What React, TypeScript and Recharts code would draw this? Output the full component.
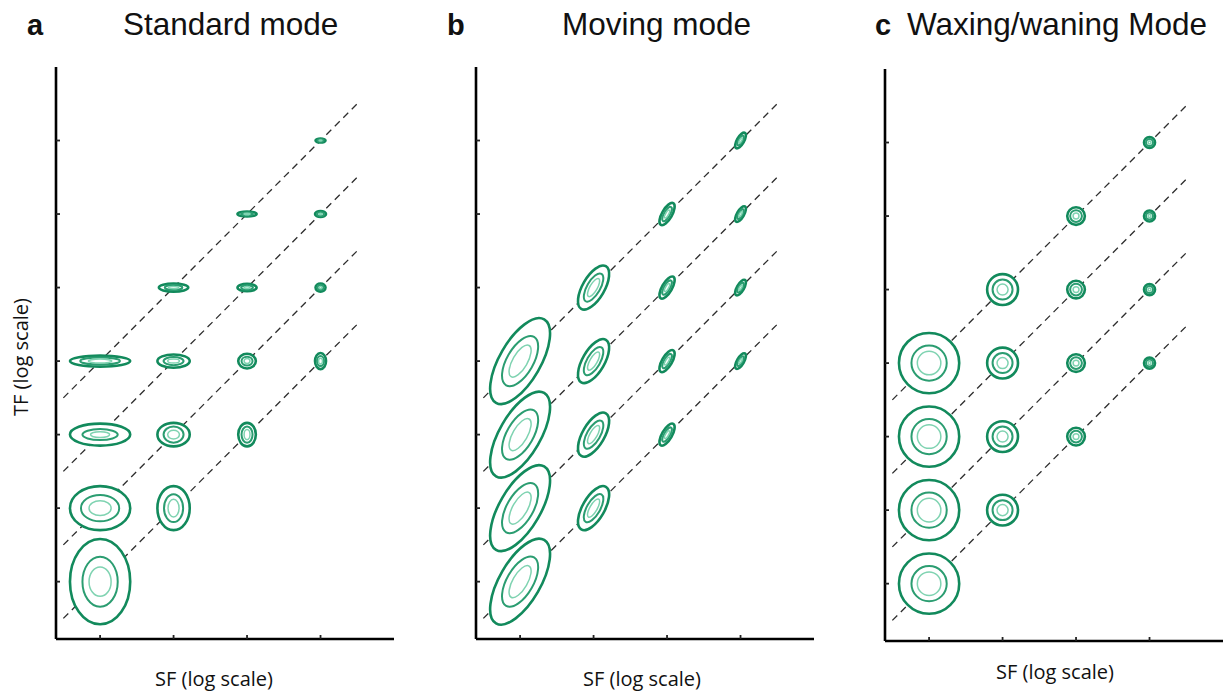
import React from "react";
import { ScatterChart, Scatter, XAxis, YAxis } from "recharts";

// axes in log units
const SF_TICKS = [1, 2, 3, 4];
const TF_TICKS = [1, 2, 3, 4, 5, 6, 7];
const SF_DOMAIN = [0.4, 5.0];
const TF_DOMAIN = [0.22, 8.0];

// dashed lines of constant speed (TF = SF + offset)
const SPEED_LINES = [
  [{ sf: 0.5, tf: 0.5 }, { sf: 4.5, tf: 4.5 }],
  [{ sf: 0.5, tf: 1.5 }, { sf: 4.5, tf: 5.5 }],
  [{ sf: 0.5, tf: 2.5 }, { sf: 4.5, tf: 6.5 }],
  [{ sf: 0.5, tf: 3.5 }, { sf: 4.5, tf: 7.5 }],
];

// contour half-widths [along SF, along TF] in log units
const standardMode = [
  { sf: 1, tf: 1, outer: [0.41, 0.58], middle: [0.24, 0.34], inner: [0.15, 0.2] },
  { sf: 1, tf: 2, outer: [0.41, 0.3], middle: [0.26, 0.18], inner: [0.15, 0.1] },
  { sf: 1, tf: 3, outer: [0.41, 0.15], middle: [0.24, 0.075], inner: [0.13, 0.04] },
  { sf: 1, tf: 4, outer: [0.41, 0.075], middle: [0.27, 0.048], inner: [0.16, 0.027] },
  { sf: 2, tf: 2, outer: [0.22, 0.3], middle: [0.13, 0.19], inner: [0.075, 0.12] },
  { sf: 2, tf: 3, outer: [0.22, 0.16], middle: [0.136, 0.11], inner: [0.08, 0.06] },
  { sf: 2, tf: 4, outer: [0.22, 0.09], middle: [0.136, 0.055], inner: [0.08, 0.027] },
  { sf: 2, tf: 5, outer: [0.2, 0.055], middle: [0.12, 0.034], inner: [0.07, 0.016] },
  { sf: 3, tf: 3, outer: [0.12, 0.16], middle: [0.075, 0.11], inner: [0.04, 0.07] },
  { sf: 3, tf: 4, outer: [0.12, 0.1], middle: [0.075, 0.06], inner: [0.04, 0.034] },
  { sf: 3, tf: 5, outer: [0.13, 0.05], middle: [0.08, 0.03], inner: [0.04, 0.014] },
  { sf: 3, tf: 6, outer: [0.13, 0.034], middle: [0.08, 0.02], inner: [0.04, 0.01] },
  { sf: 4, tf: 4, outer: [0.075, 0.11], middle: [0.048, 0.068], inner: [0.027, 0.04] },
  { sf: 4, tf: 5, outer: [0.068, 0.055], middle: [0.04, 0.034], inner: [0.02, 0.016] },
  { sf: 4, tf: 6, outer: [0.075, 0.04], middle: [0.048, 0.025], inner: [0.02, 0.011] },
  { sf: 4, tf: 7, outer: [0.068, 0.027], middle: [0.04, 0.016], inner: [0.02, 0.007] },
];

// [major, minor] half-axes, tilted along the speed direction
const movingMode = [
  { sf: 1, tf: 1, outer: [0.655, 0.28], middle: [0.38, 0.18], inner: [0.245, 0.1] },
  { sf: 1, tf: 2, outer: [0.655, 0.28], middle: [0.38, 0.18], inner: [0.245, 0.1] },
  { sf: 1, tf: 3, outer: [0.655, 0.28], middle: [0.38, 0.18], inner: [0.245, 0.1] },
  { sf: 1, tf: 4, outer: [0.655, 0.28], middle: [0.38, 0.18], inner: [0.245, 0.1] },
  { sf: 2, tf: 2, outer: [0.335, 0.15], middle: [0.215, 0.09], inner: [0.14, 0.05] },
  { sf: 2, tf: 3, outer: [0.335, 0.15], middle: [0.215, 0.09], inner: [0.14, 0.05] },
  { sf: 2, tf: 4, outer: [0.335, 0.15], middle: [0.215, 0.09], inner: [0.14, 0.05] },
  { sf: 2, tf: 5, outer: [0.335, 0.15], middle: [0.215, 0.09], inner: [0.14, 0.05] },
  { sf: 3, tf: 3, outer: [0.17, 0.068], middle: [0.11, 0.04], inner: [0.06, 0.02] },
  { sf: 3, tf: 4, outer: [0.17, 0.068], middle: [0.11, 0.04], inner: [0.06, 0.02] },
  { sf: 3, tf: 5, outer: [0.17, 0.068], middle: [0.11, 0.04], inner: [0.06, 0.02] },
  { sf: 3, tf: 6, outer: [0.17, 0.068], middle: [0.11, 0.04], inner: [0.06, 0.02] },
  { sf: 4, tf: 4, outer: [0.12, 0.048], middle: [0.075, 0.027], inner: [0.04, 0.014] },
  { sf: 4, tf: 5, outer: [0.12, 0.048], middle: [0.075, 0.027], inner: [0.04, 0.014] },
  { sf: 4, tf: 6, outer: [0.12, 0.048], middle: [0.075, 0.027], inner: [0.04, 0.014] },
  { sf: 4, tf: 7, outer: [0.12, 0.048], middle: [0.075, 0.027], inner: [0.04, 0.014] },
];

const waxingMode = [
  { sf: 1, tf: 1, outer: [0.41, 0.41], middle: [0.24, 0.24], inner: [0.16, 0.16] },
  { sf: 1, tf: 2, outer: [0.41, 0.41], middle: [0.24, 0.24], inner: [0.16, 0.16] },
  { sf: 1, tf: 3, outer: [0.41, 0.41], middle: [0.24, 0.24], inner: [0.16, 0.16] },
  { sf: 1, tf: 4, outer: [0.41, 0.41], middle: [0.24, 0.24], inner: [0.16, 0.16] },
  { sf: 2, tf: 2, outer: [0.21, 0.21], middle: [0.136, 0.136], inner: [0.075, 0.075] },
  { sf: 2, tf: 3, outer: [0.21, 0.21], middle: [0.136, 0.136], inner: [0.075, 0.075] },
  { sf: 2, tf: 4, outer: [0.21, 0.21], middle: [0.136, 0.136], inner: [0.075, 0.075] },
  { sf: 2, tf: 5, outer: [0.21, 0.21], middle: [0.136, 0.136], inner: [0.075, 0.075] },
  { sf: 3, tf: 3, outer: [0.12, 0.12], middle: [0.08, 0.08], inner: [0.04, 0.04] },
  { sf: 3, tf: 4, outer: [0.12, 0.12], middle: [0.08, 0.08], inner: [0.04, 0.04] },
  { sf: 3, tf: 5, outer: [0.12, 0.12], middle: [0.08, 0.08], inner: [0.04, 0.04] },
  { sf: 3, tf: 6, outer: [0.12, 0.12], middle: [0.08, 0.08], inner: [0.04, 0.04] },
  { sf: 4, tf: 4, outer: [0.075, 0.075], middle: [0.048, 0.048], inner: [0.02, 0.02] },
  { sf: 4, tf: 5, outer: [0.075, 0.075], middle: [0.048, 0.048], inner: [0.02, 0.02] },
  { sf: 4, tf: 6, outer: [0.075, 0.075], middle: [0.048, 0.048], inner: [0.02, 0.02] },
  { sf: 4, tf: 7, outer: [0.075, 0.075], middle: [0.048, 0.048], inner: [0.02, 0.02] },
];

const PLOT_W = 338;
const PLOT_H = 572;
const M = 10;
const AXIS = 1;
const PX = PLOT_W / (SF_DOMAIN[1] - SF_DOMAIN[0]);

const OUTER = "#128a5c";
const MIDDLE = "#2b9d71";
const INNER = "#7fd3b1";

function Contours(props: any) {
  const { cx, cy, payload, tilt } = props;
  if (cx == null || cy == null) return null;
  return (
    <g transform={`translate(${cx} ${cy}) rotate(${-tilt})`}>
      <ellipse rx={payload.outer[0] * PX} ry={payload.outer[1] * PX} fill="#fff" stroke={OUTER} strokeWidth={2.6} />
      <ellipse rx={payload.middle[0] * PX} ry={payload.middle[1] * PX} fill="none" stroke={MIDDLE} strokeWidth={2} />
      <ellipse rx={payload.inner[0] * PX} ry={payload.inner[1] * PX} fill="none" stroke={INNER} strokeWidth={1.5} />
    </g>
  );
}

const NoLabel = () => <g />;

function Panel({ data, tilt, left, bottom }: { data: any[]; tilt: number; left: number; bottom: number }) {
  return (
    <div style={{ position: "absolute", left: left - M - AXIS, top: bottom - PLOT_H - M }}>
      <ScatterChart
        width={PLOT_W + 2 * M + AXIS}
        height={PLOT_H + 2 * M + AXIS}
        margin={{ top: M, right: M, bottom: M, left: M }}
      >
        <XAxis
          type="number"
          dataKey="sf"
          domain={SF_DOMAIN}
          ticks={SF_TICKS}
          allowDataOverflow
          height={AXIS}
          tick={NoLabel}
          tickSize={-4}
          axisLine={{ stroke: "#000", strokeWidth: 2.6 }}
          tickLine={{ stroke: "#222", strokeWidth: 1.8 }}
        />
        <YAxis
          type="number"
          dataKey="tf"
          domain={TF_DOMAIN}
          ticks={TF_TICKS}
          allowDataOverflow
          width={AXIS}
          tick={NoLabel}
          tickSize={-4}
          axisLine={{ stroke: "#000", strokeWidth: 2.6 }}
          tickLine={{ stroke: "#222", strokeWidth: 1.8 }}
        />
        {SPEED_LINES.map((seg, i) => (
          <Scatter
            key={`line-${i}`}
            data={seg}
            line={{ stroke: "#2d2d2d", strokeWidth: 1.3, strokeDasharray: "7 5" }}
            shape={() => <g />}
            isAnimationActive={false}
          />
        ))}
        <Scatter data={data} shape={(p: any) => <Contours {...p} tilt={tilt} />} isAnimationActive={false} />
      </ScatterChart>
    </div>
  );
}

const TITLE_FONT = "Liberation Sans, Arial, sans-serif";
const LABEL_FONT = "Open Sans, sans-serif";

export default function App() {
  return (
    <div style={{ position: "absolute", left: 0, top: 0, width: 1227, height: 691, background: "#fff", overflow: "hidden" }}>
      <Panel data={standardMode} tilt={0} left={56} bottom={639} />
      <Panel data={movingMode} tilt={60} left={476} bottom={639} />
      <Panel data={waxingMode} tilt={0} left={885} bottom={641} />
      <svg width={1227} height={691} style={{ position: "absolute", left: 0, top: 0, pointerEvents: "none" }}>
        <g fontFamily={TITLE_FONT} fill="#111">
          <text x={27} y={35} fontSize={29} fontWeight="bold">a</text>
          <text x={123} y={35} fontSize={31.5}>Standard mode</text>
          <text x={447} y={35} fontSize={29} fontWeight="bold">b</text>
          <text x={562} y={35} fontSize={31.5}>Moving mode</text>
          <text x={875} y={35} fontSize={29} fontWeight="bold">c</text>
          <text x={907} y={35} fontSize={31.5}>Waxing/waning Mode</text>
        </g>
        <g fontFamily={LABEL_FONT} fill="#111" fontSize={20} textAnchor="middle">
          <text x={214} y={686}>SF (log scale)</text>
          <text x={642} y={686}>SF (log scale)</text>
          <text x={1055} y={679}>SF (log scale)</text>
          <text x={28} y={357} transform="rotate(-90 28 357)">TF (log scale)</text>
        </g>
      </svg>
    </div>
  );
}
